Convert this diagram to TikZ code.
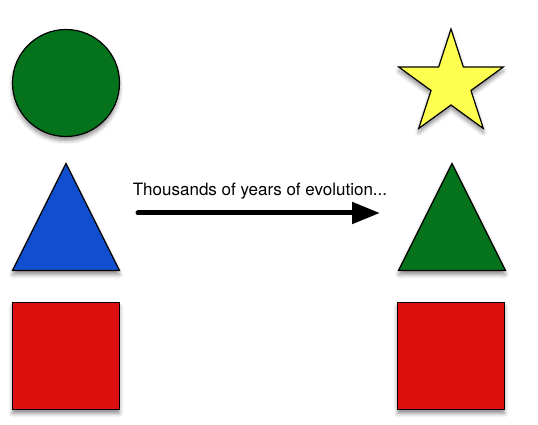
\documentclass[tikz,border=0pt]{standalone}
\usepackage{fontspec}
\setmainfont{TeX Gyre Heros}
\usepackage{tikz}
\usetikzlibrary{positioning, shadows, shadows.blur, shapes.geometric, arrows.meta}
\definecolor{leafgreen}{RGB}{4, 115, 28}
\definecolor{royalblue}{RGB}{16, 80, 208}
\definecolor{signalred}{RGB}{220, 14, 14}
\definecolor{lemon}{RGB}{255, 255, 80}

\begin{document}
\begin{tikzpicture}[
            x=1pt, y=1pt,
            piece/.style={draw=black, line width=1.2pt, inner sep=0pt, blur shadow={shadow xshift=0pt, shadow yshift=-4pt, shadow blur radius=4pt, shadow opacity=45}},
            roundpiece/.style={piece, circle, minimum size=107pt},
            boxpiece/.style={piece, rectangle, minimum size=107pt},
            tripiece/.style={piece, isosceles triangle, shape border rotate=90, isosceles triangle stretches, minimum width=107pt, minimum height=107pt},
            starpiece/.style={piece, star, star points=5, star point ratio=2.62, minimum size=110pt},
            arrow/.style={line width=5pt, line cap=round, -{Triangle[length=28pt, width=21pt]}}
        ]
            \useasboundingbox (0,0) rectangle (538,425);

            % before
            \node[roundpiece, fill=leafgreen] (circ) at (66,342) {};
            \node[tripiece, fill=royalblue, anchor=apex] (trileft) at (66,263) {};
            \node[boxpiece, fill=signalred] (boxleft) at (66,69) {};

            % after
            \node[starpiece, fill=lemon] (star) at (451,341) {};
            \node[tripiece, fill=leafgreen, anchor=apex] (triright) at (452,263) {};
            \node[boxpiece, fill=signalred] (boxright) at (451,69) {};

            \coordinate (from) at (138,212);
            \coordinate (to) at (380,212);
            \draw[arrow] (from) -- (to);
            \node[font=\fontsize{17}{20}\selectfont, anchor=base] (caption) at (260,229) {Thousands of years of evolution...};
        \end{tikzpicture}
\end{document}
